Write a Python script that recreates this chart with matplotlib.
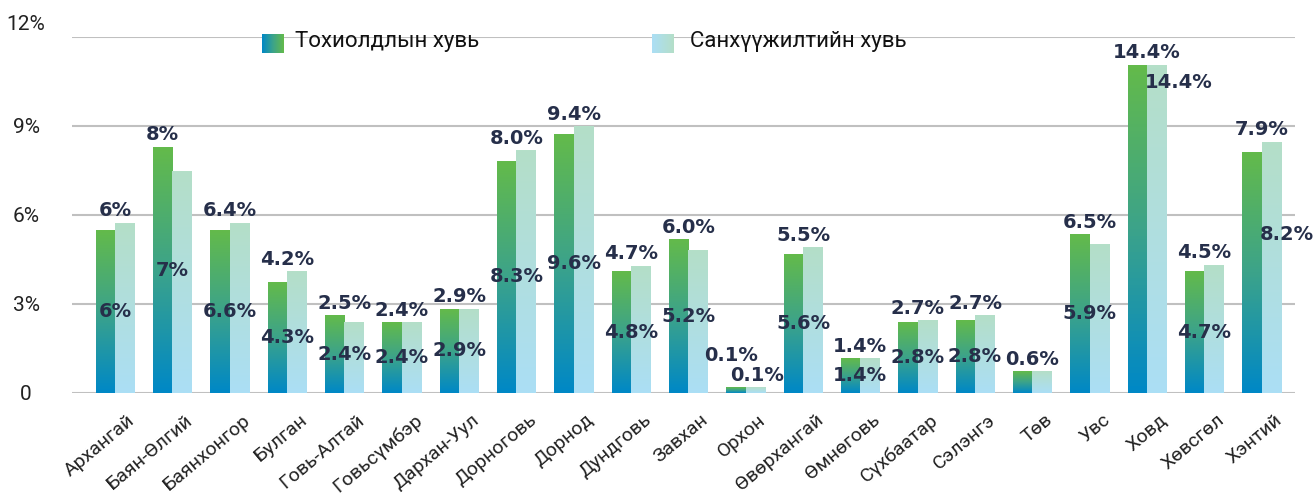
import numpy as np
import matplotlib
matplotlib.use("Agg")
import matplotlib.pyplot as plt
from matplotlib.colors import LinearSegmentedColormap
from matplotlib.transforms import offset_copy

# data
provinces = ['Архангай', 'Баян-Өлгий', 'Баянхонгор', 'Булган', 'Говь-Алтай', 'Говьсүмбэр',
             'Дархан-Уул', 'Дорноговь', 'Дорнод', 'Дундговь', 'Завхан', 'Орхон',
             'Өвөрхангай', 'Өмнөговь', 'Сүхбаатар', 'Сэлэнгэ', 'Төв', 'Увс', 'Ховд',
             'Хөвсгөл', 'Хэнтий']
case_share = [5.49, 8.29, 5.49, 3.74, 2.60, 2.36, 2.83, 7.82, 8.70, 4.08, 5.16, 0.17,
              4.68, 1.15, 2.36, 2.43, 0.71, 5.33, 11.05, 4.08, 8.12]
fund_share = [5.73, 7.45, 5.73, 4.08, 2.36, 2.36, 2.83, 8.16, 8.97, 4.28, 4.79, 0.17,
              4.89, 1.15, 2.43, 2.60, 0.71, 4.99, 11.05, 4.31, 8.46]
top_labels = ['6%', '8%', '6.4%', '4.2%', '2.5%', '2.4%', '2.9%', '8.0%', '9.4%', '4.7%',
              '6.0%', '0.1%', '5.5%', '1.4%', '2.7%', '2.7%', '0.6%', '6.5%', '14.4%',
              '4.5%', '7.9%']
inner_labels = ['6%', '7%', '6.6%', '4.3%', '2.4%', '2.4%', '2.9%', '8.3%', '9.6%', '4.8%',
                '5.2%', '0.1%', '5.6%', '1.4%', '2.8%', '2.8%', '', '5.9%', '14.4%',
                '4.7%', '8.2%']
yticks = [0, 3, 6, 9, 12]
ytick_labels = ['0', '3%', '6%', '9%', '12%']
series_names = ['Тохиолдлын хувь', 'Санхүүжилтийн хувь']

green_cmap = LinearSegmentedColormap.from_list('g', ['#0088c6', '#3ca38a', '#63ba4b'])
light_cmap = LinearSegmentedColormap.from_list('l', ['#abdff5', '#b0dedf', '#b4dfc8'])
label_color = '#262f4a'

fig = plt.figure(figsize=(13.14, 4.97), dpi=100)
ax = fig.add_axes([0.0548, 0.2093, 0.9307, 0.7163])

x = np.arange(len(provinces))
w = 0.34
grad = np.linspace(0, 1, 100).reshape(-1, 1)

for i in x:
    ax.imshow(grad, cmap=green_cmap, origin='lower', aspect='auto',
              extent=[i - w, i, 0, case_share[i]], zorder=3)
    ax.imshow(grad, cmap=light_cmap, origin='lower', aspect='auto',
              extent=[i, i + w, 0, fund_share[i]], zorder=3)

ax.set_xlim(-0.75, len(provinces) - 1 + 0.58)
ax.set_ylim(0, 12)
ax.set_yticks(yticks)
ax.set_yticklabels(ytick_labels)
ax.yaxis.grid(True, color='#c0c0c0', linewidth=1.5, zorder=0)
ax.set_axisbelow(True)
for s in ax.spines.values():
    s.set_visible(False)
ax.tick_params(axis='y', length=0, pad=33, labelsize=15, labelcolor='#222222')
for lab in ax.get_yticklabels():
    lab.set_horizontalalignment('center')
    lab.set_fontfamily('Roboto')
ax.get_yticklabels()[-1].set_transform(offset_copy(ax.get_yticklabels()[-1].get_transform(),
                                                   fig=fig, y=14, units='dots'))

ax.set_xticks(x)
ax.set_xticklabels(provinces, rotation=40, ha='right', rotation_mode='anchor',
                   fontsize=14, fontfamily='Roboto', color='#222222')
ax.tick_params(axis='x', length=0, pad=13)
for lab in ax.get_xticklabels():
    lab.set_transform(offset_copy(lab.get_transform(), fig=fig, x=12, units='dots'))

# data labels
lab_kw = dict(fontsize=14, fontweight='bold', color=label_color,
              fontfamily='DejaVu Sans', textcoords='offset pixels', zorder=5)
top_shift = {1: (-10, 0), 11: (-15, 20)}
for i in x:
    top = max(case_share[i], fund_share[i])
    dx, dy = top_shift.get(i, (0, 0))
    ax.annotate(top_labels[i], (i, top), xytext=(dx, 3 + dy), ha='center', va='bottom', **lab_kw)
    if not inner_labels[i]:
        continue
    if i == 18:
        ax.annotate(inner_labels[i], (i, case_share[i]), xytext=(-2, -17), ha='left',
                    va='center', **lab_kw)
    elif i == 20:
        ax.annotate(inner_labels[i], (i + w, fund_share[i] * 0.63), xytext=(6, 0),
                    ha='center', va='center', **lab_kw)
    elif i == 11:
        ax.annotate(inner_labels[i], (i, case_share[i]), xytext=(11, 3), ha='center',
                    va='bottom', **lab_kw)
    else:
        ax.annotate(inner_labels[i], (i, case_share[i] * 0.5), xytext=(0, 0),
                    ha='center', va='center', **lab_kw)

# legend with gradient swatches
hgrad = np.linspace(0, 1, 100).reshape(1, -1)
for (x0, cmap, name, tx) in [(262, green_cmap, series_names[0], 295),
                             (652, light_cmap, series_names[1], 690)]:
    lax = fig.add_axes([x0 / 1314, 1 - 53 / 497, 22 / 1314, 19 / 497])
    lax.imshow(hgrad, cmap=cmap, aspect='auto')
    lax.axis('off')
    fig.text(tx / 1314, 1 - 42 / 497, name, fontsize=16, fontfamily='Roboto',
             color='#111111', va='center', ha='left')

fig.savefig('out.png', dpi=100)
